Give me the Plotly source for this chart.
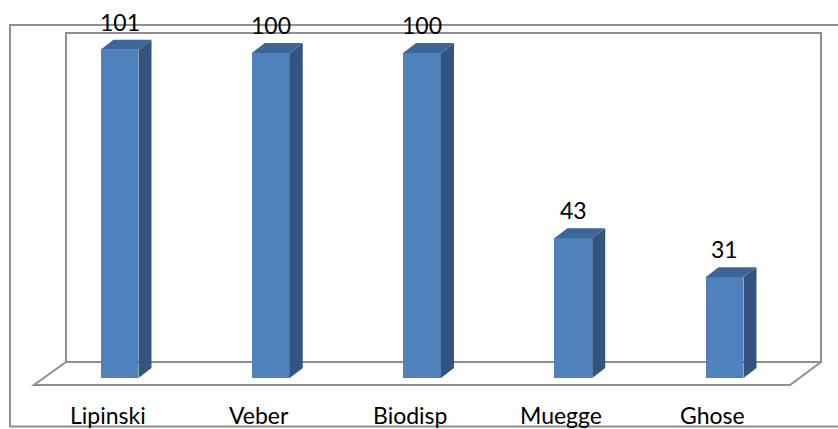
import plotly.graph_objects as go

# Drug-likeness rule sets and number of compounds passing each
categories = ["Lipinski", "Veber", "Biodisp", "Muegge", "Ghose"]
values = [101, 100, 100, 43, 31]

W, H = 838, 429

# axis scaling: category spacing in px and value scale in px per unit
px_per_cat = 151.25
first_center_px = 119.5
px_per_unit = 3.25
zero_px = 378

x0 = -first_center_px / px_per_cat
x1 = x0 + W / px_per_cat
y_top = zero_px / px_per_unit
y_bot = -(H - zero_px) / px_per_unit

bar_w = 0.251                 # front face width in category units
dx = 13 / px_per_cat          # depth offset (x) of the 3-D extrusion
dy = 10 / px_per_unit         # depth offset (y) of the 3-D extrusion

FRONT = "#4F81BD"
TOP = "#3D6597"
SIDE = "#33547F"
GRID = "#8F8F8F"

xs = list(range(len(categories)))

fig = go.Figure()

# front faces
fig.add_trace(go.Bar(x=xs, y=values, width=bar_w, marker=dict(color=FRONT, line=dict(width=0)),
                     hoverinfo="skip", showlegend=False))

# side and top faces of each bar
for i, v in zip(xs, values):
    l, r = i - bar_w / 2, i + bar_w / 2
    fig.add_trace(go.Scatter(
        x=[r, r + dx, r + dx, r, r], y=[0, dy, v + dy, v, 0],
        mode="lines", fill="toself", fillcolor=SIDE, line=dict(width=0),
        hoverinfo="skip", showlegend=False))
    fig.add_trace(go.Scatter(
        x=[l, r, r + dx, l + dx, l], y=[v, v, v + dy, v + dy, v],
        mode="lines", fill="toself", fillcolor=TOP, line=dict(width=0),
        hoverinfo="skip", showlegend=False))

def px(x):
    return x / W

def py(y):
    return 1 - y / H

shapes = []
line = dict(color=GRID, width=2)
# back wall
shapes.append(dict(type="path", xref="paper", yref="paper", layer="below",
                   path=f"M {px(66)} {py(362)} L {px(66)} {py(33)} L {px(821)} {py(33)} L {px(821)} {py(362)} Z",
                   line=line))
# floor
shapes.append(dict(type="path", xref="paper", yref="paper", layer="below",
                   path=f"M {px(66)} {py(362)} L {px(34)} {py(385)} L {px(790)} {py(385)} L {px(821)} {py(362)}",
                   line=line))
# outer chart border
shapes.append(dict(type="path", xref="paper", yref="paper", layer="above",
                   path=f"M {px(850)} {py(25)} L {px(10)} {py(25)} L {px(10)} {py(426.5)} L {px(850)} {py(426.5)}",
                   line=dict(color=GRID, width=2)))

annotations = []
for i, v in zip(xs, values):
    annotations.append(dict(x=i, y=v, xref="x", yref="y", text=str(v), showarrow=False,
                            yanchor="middle", yshift=28,
                            font=dict(family="Lato", size=23, color="black")))
for i, c in zip(xs, categories):
    annotations.append(dict(x=i, y=py(414.5), xref="x", yref="paper", text=c, showarrow=False,
                            yanchor="middle", xshift=-12,
                            font=dict(family="Lato", size=23, color="black")))

fig.update_layout(
    width=W, height=H,
    margin=dict(l=0, r=0, t=0, b=0),
    paper_bgcolor="white", plot_bgcolor="white",
    xaxis=dict(range=[x0, x1], visible=False, fixedrange=True),
    yaxis=dict(range=[y_bot, y_top], visible=False, fixedrange=True),
    shapes=shapes, annotations=annotations,
    bargap=0,
)

fig.write_html("out.html")
